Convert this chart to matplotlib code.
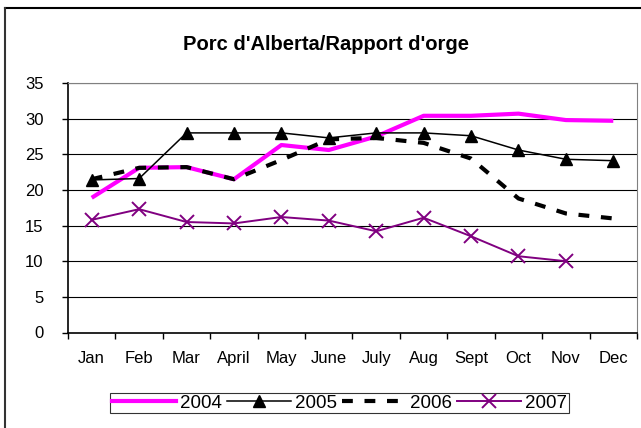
import matplotlib
matplotlib.use("Agg")
import matplotlib.pyplot as plt
from matplotlib.lines import Line2D
import numpy as np

plt.rcParams['font.family'] = ['Liberation Sans', 'DejaVu Sans']

months = ["Jan", "Feb", "Mar", "April", "May", "June", "July", "Aug", "Sept", "Oct", "Nov", "Dec"]
s2004 = [18.9, 23.1, 23.2, 21.5, 26.3, 25.6, 27.5, 30.4, 30.4, 30.7, 29.8, 29.7]
s2005 = [21.4, 21.6, 28.0, 28.0, 28.0, 27.3, 28.0, 28.0, 27.6, 25.6, 24.3, 24.1]
s2006 = [21.5, 23.1, 23.2, 21.5, 24.2, 27.1, 27.3, 26.6, 24.4, 18.8, 16.7, 16.0]
s2007 = [15.8, 17.3, 15.5, 15.3, 16.2, 15.7, 14.2, 16.1, 13.5, 10.7, 10.0, None]
series_names = ["2004", "2005", "2006", "2007"]
yticks = [0, 5, 10, 15, 20, 25, 30, 35]

W, H = 641, 428
fig = plt.figure(figsize=(W / 100, H / 100), dpi=100)
ax = fig.add_axes([68 / W, 1 - 332.5 / H, (637 - 68) / W, (332.5 - 83) / H])

x = np.arange(len(months))
y2007 = np.array([np.nan if v is None else v for v in s2007], dtype=float)

ax.plot(x, s2004, color="#FF00FF", lw=3, solid_capstyle="butt", zorder=3)
ax.plot(x, s2005, color="black", lw=1.1, marker="^", ms=8, zorder=4)
ax.plot(x, s2006, color="black", lw=3, dashes=(2.6, 2.8), zorder=3)
ax.plot(x, y2007, color="#800080", lw=1.4, marker="x", ms=10, mew=1.4, zorder=4)

ax.set_xlim(-0.5, 11.5)
ax.set_ylim(0, 35)
ax.set_yticks(yticks)
ax.set_xticks(x)
ax.set_xticklabels(months, fontsize=12)
ax.set_xticks(np.arange(-0.5, 12, 1), minor=True)
ax.tick_params(axis="x", which="major", length=0, pad=13)
ax.tick_params(axis="x", which="minor", length=4, width=1, direction="out", color="black")
ax.tick_params(axis="y", length=4.5, width=1, direction="out", labelsize=12, pad=13)
for v in yticks[1:]:
    ax.axhline(v, color="black", lw=0.8, zorder=1)
ax.spines["left"].set_color("black")
ax.spines["bottom"].set_color("black")
ax.spines["left"].set_linewidth(1.2)
ax.spines["bottom"].set_linewidth(1.2)
ax.spines["top"].set_color("#808080")
ax.spines["right"].set_color("#808080")

fig.text(0.508, 1 - 44 / H, "Porc d'Alberta/Rapport d'orge", ha="center", va="center",
         fontsize=14.5, fontweight="bold")

handles = [
    Line2D([], [], color="#FF00FF", lw=3),
    Line2D([], [], color="black", lw=1.1, marker="^", ms=8),
    Line2D([], [], color="black", lw=3, dashes=(2.6, 2.8)),
    Line2D([], [], color="#800080", lw=1.4, marker="x", ms=10, mew=1.4),
]
leg = fig.legend(handles, series_names, ncol=4, loc="center",
                 bbox_to_anchor=((107 + 572) / 2 / W, 1 - 403 / H),
                 fontsize=13.5, frameon=True, fancybox=False, edgecolor="black",
                 handlelength=3.4, handletextpad=0.2, columnspacing=0.3,
                 borderpad=0.1, borderaxespad=0)
leg.get_frame().set_linewidth(0.8)

fig.add_artist(Line2D([5 / W, 640 / W], [1 - 8 / H, 1 - 8 / H], transform=fig.transFigure,
                      color="black", lw=1.5))
fig.add_artist(Line2D([5 / W, 5 / W], [0, 1 - 8 / H], transform=fig.transFigure,
                      color="#333333", lw=1.5))

fig.savefig("out.png", dpi=100)
